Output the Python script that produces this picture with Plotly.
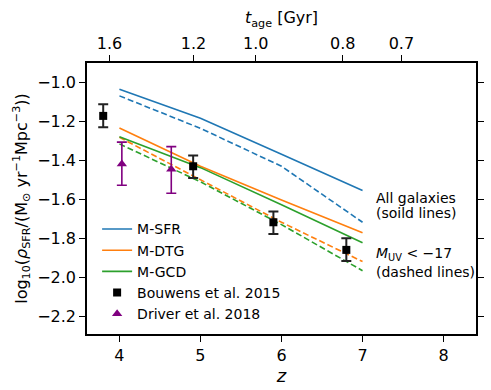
import numpy as np
import plotly.graph_objects as go

# ---- data ----
z_model = [4, 5, 6, 7]
sfr_all = [-1.034, -1.183, -1.368, -1.555]
sfr_uv = [-1.068, -1.235, -1.430, -1.718]
dtg_all = [-1.233, -1.430, -1.603, -1.772]
dtg_uv = [-1.281, -1.500, -1.718, -1.920]
gcd_all = [-1.278, -1.437, -1.628, -1.823]
gcd_uv = [-1.315, -1.510, -1.730, -1.967]

bouwens_z = [3.80, 4.91, 5.90, 6.80]
bouwens_y = [-1.171, -1.430, -1.718, -1.860]
bouwens_up = [0.060, 0.055, 0.055, 0.060]
bouwens_dn = [0.058, 0.060, 0.060, 0.057]

driver_z = [4.03, 4.64]
driver_y = [-1.418, -1.445]
driver_up = [0.112, 0.116]
driver_dn = [0.110, 0.124]

tage_ticks = [1.6, 1.2, 1.0, 0.8, 0.7]
tage_labels = ["1.6", "1.2", "1.0", "0.8", "0.7"]

yticks = [-2.2, -2.0, -1.8, -1.6, -1.4, -1.2, -1.0]
xticks = [4, 5, 6, 7, 8]

# cosmology (flat LCDM) to place the age ticks on the redshift axis
H0, Om = 67.7, 0.31
OL = 1 - Om
hubble_time = 977.8 / H0  # Gyr
fac = 2.0 / (3.0 * np.sqrt(OL)) * hubble_time


def z_from_age(t):
    return (np.sqrt(OL / Om) / np.sinh(t / fac)) ** (2.0 / 3.0) - 1


tage_pos = [float(z_from_age(t)) for t in tage_ticks]

C_BLUE, C_ORANGE, C_GREEN = "#1f77b4", "#ff7f0e", "#2ca02c"
FONT = "DejaVu Sans"
DASH = "6px,3px"
XR = [3.6, 8.4]
YR = [-2.2925, -0.899]

fig = go.Figure()
for name, col, ya, yu in [("M-SFR", C_BLUE, sfr_all, sfr_uv),
                          ("M-DTG", C_ORANGE, dtg_all, dtg_uv),
                          ("M-GCD", C_GREEN, gcd_all, gcd_uv)]:
    fig.add_trace(go.Scatter(x=z_model, y=ya, mode="lines", name=name,
                             line=dict(color=col, width=1.6)))
    fig.add_trace(go.Scatter(x=z_model, y=yu, mode="lines", showlegend=False,
                             line=dict(color=col, width=1.6, dash=DASH)))

fig.add_trace(go.Scatter(
    x=bouwens_z, y=bouwens_y, mode="markers", name="Bouwens et al. 2015",
    marker=dict(symbol="square", size=8, color="black"),
    error_y=dict(type="data", symmetric=False, array=bouwens_up,
                 arrayminus=bouwens_dn, color="#222222", thickness=2, width=5)))
fig.add_trace(go.Scatter(
    x=driver_z, y=driver_y, mode="markers", name="Driver et al. 2018",
    marker=dict(symbol="triangle-up", size=9, color="purple"),
    error_y=dict(type="data", symmetric=False, array=driver_up,
                 arrayminus=driver_dn, color="purple", thickness=1.6, width=5)))

# invisible trace to carry the top axis
fig.add_trace(go.Scatter(x=XR, y=[-2.0, -2.0], xaxis="x2", mode="markers",
                         marker=dict(opacity=0), showlegend=False, hoverinfo="skip"))

ann_font = dict(family=FONT, size=14, color="black")
for txt, yv in [("All galaxies", -1.594), ("(soild lines)", -1.671),
                ("<i>M</i><sub>UV</sub> < \u221217", -1.881), ("(dashed lines)", -1.972)]:
    fig.add_annotation(x=7.14, y=yv, xref="x", yref="y", xanchor="left", yanchor="middle",
                       align="left", showarrow=False, text=txt, font=ann_font)

# frame around the plotting area, as four thin filled bars in paper coordinates
PW, PH = 389.0, 271.0
bw, bh = 1.5 / PW, 1.5 / PH
for x0, y0, x1, y1 in [(-bw, -bh, 1 + bw, 0), (-bw, 1, 1 + bw, 1 + bh),
                       (-bw, -bh, 0, 1 + bh), (1, -bh, 1 + bw, 1 + bh)]:
    fig.add_shape(type="rect", xref="paper", yref="paper", x0=x0, y0=y0, x1=x1, y1=y1,
                  line=dict(width=0), fillcolor="black", layer="above")

axis_common = dict(showline=True, linecolor="#000000", linewidth=1.5,
                   ticks="outside", ticklen=6, tickwidth=1.3, tickcolor="black",
                   showgrid=False, zeroline=False, automargin=False,
                   tickfont=dict(family=FONT, size=16, color="black"))

fig.update_layout(
    width=491, height=390,
    margin=dict(l=87, r=15, t=63, b=56),
    paper_bgcolor="white", plot_bgcolor="white",
    font=dict(family=FONT, color="black"),
    xaxis=dict(range=XR, tickvals=xticks, ticktext=[str(v) for v in xticks],
               title=dict(text="<i>z</i>", font=dict(family=FONT, size=18), standoff=4),
               mirror=False, **axis_common),
    xaxis2=dict(range=XR, overlaying="x", side="top", anchor="y",
                tickvals=tage_pos, ticktext=tage_labels,
                title=dict(text="<i>t</i><sub>age</sub> [Gyr]", font=dict(family=FONT, size=16),
                           standoff=6),
                mirror=False, **axis_common),
    yaxis=dict(range=YR, tickvals=yticks, tickformat=".1f", mirror="ticks",
               title=dict(text="log<sub>10</sub>(<i>ρ</i><sub>SFR</sub>/(M<sub>⊙</sub> yr<sup>\u22121</sup>Mpc<sup>\u22123</sup>))",
                          font=dict(family=FONT, size=16), standoff=6),
               **axis_common),
    legend=dict(x=0.026, y=0.445, xanchor="left", yanchor="top",
                bgcolor="rgba(0,0,0,0)", borderwidth=0,
                font=dict(family=FONT, size=14, color="black"),
                tracegroupgap=0),
    showlegend=True,
)

fig.write_html("out.html", config={"displayModeBar": False},
               post_script="document.body.style.margin='0';")
